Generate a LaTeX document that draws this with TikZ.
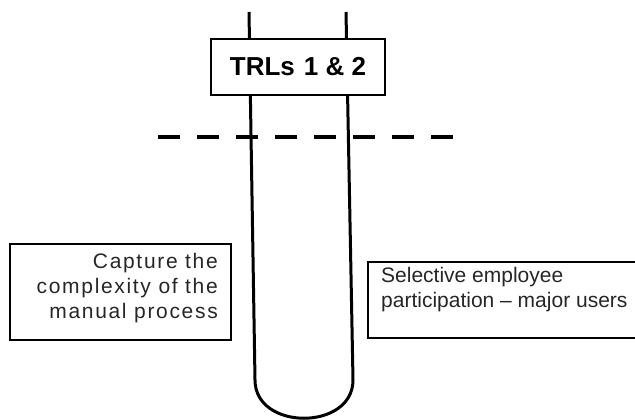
\documentclass[tikz,border=0pt]{standalone}
\usepackage{fontspec}
\setmainfont{Liberation Sans}
\newfontfamily\trackedfont[LetterSpace=8]{Liberation Sans}
\begin{document}
\begin{tikzpicture}[x=1pt,y=-1pt,
  tube/.style={line width=3pt,black},
  boxline/.style={line width=1.8pt,black},
  cut/.style={line width=4pt,black,dash pattern=on 22pt off 17pt},
  label/.style={font=\fontsize{21}{25}\selectfont,text=black!85,inner sep=0pt}]
\useasboundingbox (0,0) rectangle (635,420);
% tube
\coordinate (lt) at (249,12);
\coordinate (lb) at (255,380);
\coordinate (rb) at (353,380);
\coordinate (rt) at (346,12);
\draw[tube] (lt) -- (lb) .. controls (255,431) and (353,431) .. (rb) -- (rt);
% TRL box
\node[boxline,draw,fill=white,minimum width=174pt,minimum height=56pt,inner sep=0pt,
  font=\fontsize{26}{30}\selectfont\bfseries] (trl) at (298,67) {TRLs\hspace{0.35em}1 \& 2};
% dashed cut line
\coordinate (dl) at (158,137);
\coordinate (dr) at (453,137);
\draw[cut] (dl) -- (dr);
% left box
\node[boxline,draw,minimum width=221pt,minimum height=96pt] (lbox) at (120.5,292) {};
\node[label,align=right,anchor=east,font=\fontsize{21}{25}\selectfont\trackedfont] (ltext) at (218,288)
  {Capture the\\complexity of the\\manual process};
% right box (open to the right edge)
\coordinate (rbtr) at (636,262);
\coordinate (rbbl) at (368,338);
\coordinate (rbbr) at (636,338);
\draw[boxline] (rbtr) -| (rbbl) -- (rbbr);
\node[label,align=left,anchor=west] (rtext) at (381,290)
  {Selective employee\\participation -- major users};
\end{tikzpicture}
\end{document}
